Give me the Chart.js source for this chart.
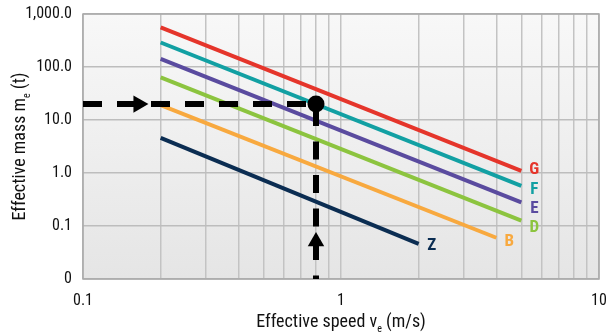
<!DOCTYPE html>
<html><head><meta charset="utf-8">
<script src="https://cdn.jsdelivr.net/npm/chart.js@4/dist/chart.umd.min.js"></script>
<style>html,body{margin:0;padding:0;background:#fff}#wrap{width:609px;height:333px}</style>
</head><body><div id="wrap"><canvas id="c" width="609" height="333"></canvas></div>
<script>
// ---- data ----
const seriesNames = ['G', 'F', 'E', 'D', 'B', 'Z'];
const speedG = [0.2, 5];   const massG = [560, 1.1];
const speedF = [0.2, 5];   const massF = [290, 0.57];
const speedE = [0.2, 5];   const massE = [142, 0.28];
const speedD = [0.2, 5];   const massD = [64, 0.126];
const speedB = [0.2, 4.0]; const massB = [19, 0.06];
const speedZ = [0.2, 2.0]; const massZ = [4.6, 0.046];
const seriesColors = ['#e5352b', '#12a0a3', '#5a4b9f', '#8cc43f', '#f8a93f', '#0b2d52'];
const labelDy = [-1, 4, 6, 7, 4, 2];

const guideSpeed = 0.8;     // example read-off point
const guideMass = 20;
const hArrowSpeed = [0.164]; const hArrowMass = [20];
const vArrowSpeed = [0.8];   const vArrowMass = [0.051];

const yTickValues = [0.01, 0.1, 1, 10, 100, 1000];
const yTickLabels = ['0', '0.1', '1.0', '10.0', '100.0', '1,000.0'];
const xGridValues = [0.1,0.2,0.3,0.4,0.5,0.6,0.7,0.8,0.9,1,2,3,4,5,6,7,8,9,10];
const xLabelValues = [0.1, 1, 10];
const xLabelTexts = ['0.1', '1', '10'];

const FONT = "'Liberation Sans Narrow', 'Arial Narrow', 'Roboto Condensed', Roboto, sans-serif";

const speeds = [speedG, speedF, speedE, speedD, speedB, speedZ];
const masses = [massG, massF, massE, massD, massB, massZ];
const pts = (xs, ys) => xs.map((x, i) => ({x: x, y: ys[i]}));

const datasets = seriesNames.map((n, i) => ({
  label: n, data: pts(speeds[i], masses[i]), showLine: true,
  borderColor: seriesColors[i], borderWidth: 4, pointRadius: 0,
  endLabel: n, endColor: seriesColors[i], endDy: labelDy[i], order: 10
}));
datasets.push({label: 'h', data: pts([0.1, guideSpeed], [guideMass, guideMass]), showLine: true,
  borderColor: '#000', borderWidth: 6, borderDash: [19, 15], borderCapStyle: 'butt', pointRadius: 0, order: 5});
datasets.push({label: 'v', data: pts([guideSpeed, guideSpeed], [guideMass, 0.01]), showLine: true,
  borderColor: '#000', borderWidth: 6, borderDash: [18, 15.5], borderDashOffset: 29.5, borderCapStyle: 'butt', pointRadius: 0, order: 5});
datasets.push({label: 'ha', data: pts(hArrowSpeed, hArrowMass), pointStyle: 'triangle', rotation: 90,
  pointRadius: 10, pointBackgroundColor: '#000', pointBorderWidth: 0, order: 1});
datasets.push({label: 'va', data: pts(vArrowSpeed, vArrowMass), pointStyle: 'triangle', rotation: 0,
  pointRadius: 9.5, pointBackgroundColor: '#000', pointBorderWidth: 0, order: 1});
datasets.push({label: 'dot', data: pts([guideSpeed], [guideMass]), pointStyle: 'circle',
  pointRadius: 8.5, pointBackgroundColor: '#000', pointBorderWidth: 0, order: 0});

const bgPlugin = {
  id: 'bg',
  beforeDraw(chart) {
    const a = chart.chartArea, ctx = chart.ctx;
    const g = ctx.createLinearGradient(0, a.top, 0, a.bottom);
    g.addColorStop(0, '#f8f8f8'); g.addColorStop(1, '#e5e5e5');
    ctx.save(); ctx.fillStyle = g; ctx.fillRect(a.left, a.top, a.right - a.left, a.bottom - a.top); ctx.restore();
  },
  beforeDatasetsDraw(chart) {
    const a = chart.chartArea, ctx = chart.ctx;
    ctx.save(); ctx.strokeStyle = '#a9a9a9'; ctx.lineWidth = 1.5;
    ctx.strokeRect(a.left, a.top, a.right - a.left, a.bottom - a.top); ctx.restore();
  },
  afterDatasetsDraw(chart) {
    const ctx = chart.ctx;
    ctx.save();
    ctx.font = "bold 17px " + FONT; ctx.textBaseline = 'middle'; ctx.textAlign = 'center';
    chart.data.datasets.forEach((ds, i) => {
      if (!ds.endLabel) return;
      const meta = chart.getDatasetMeta(i);
      const p = meta.data[meta.data.length - 1];
      ctx.fillStyle = ds.endColor;
      ctx.fillText(ds.endLabel, p.x + 13, p.y + ds.endDy);
    });
    ctx.restore();
  },
  afterDraw(chart) {
    const a = chart.chartArea, ctx = chart.ctx;
    function sub(parts, cx, cy) {
      const big = "18px " + FONT, small = "10px " + FONT;
      let w = 0;
      parts.forEach(p => { ctx.font = p.s ? small : big; w += ctx.measureText(p.t).width; });
      let x = cx - w / 2;
      parts.forEach(p => {
        ctx.font = p.s ? small : big;
        ctx.fillText(p.t, x, cy + (p.s ? 5 : 0));
        x += ctx.measureText(p.t).width;
      });
    }
    ctx.save(); ctx.fillStyle = '#111'; ctx.textBaseline = 'alphabetic'; ctx.textAlign = 'left';
    sub([{t: 'Effective speed v'}, {t: 'e', s: 1}, {t: ' (m/s)'}], (a.left + a.right) / 2, 327);
    ctx.translate(25, (a.top + a.bottom) / 2); ctx.rotate(-Math.PI / 2);
    sub([{t: 'Effective mass m'}, {t: 'e', s: 1}, {t: ' (t)'}], 0, 0);
    ctx.restore();
  }
};

new Chart(document.getElementById('c'), {
  type: 'scatter',
  data: {datasets: datasets},
  options: {
    responsive: false, animation: false,
    layout: {padding: {left: 0, right: 8, top: 14, bottom: 0}},
    plugins: {legend: {display: false}, tooltip: {enabled: false}},
    scales: {
      x: {
        type: 'logarithmic', min: 0.1, max: 10,
        afterFit(s) { s.height = 54; s.paddingLeft = 0; s.paddingRight = 0; },
        afterBuildTicks(s) { s.ticks = xGridValues.map(v => ({value: v})); },
        grid: {color: '#c3c3c3', lineWidth: 1.5, drawTicks: false},
        border: {display: false},
        ticks: {autoSkip: false, maxRotation: 0, padding: 12, color: '#111', font: {family: FONT, size: 16},
          callback(v) { const k = xLabelValues.findIndex(t => Math.abs(t - v) < 1e-9); return k >= 0 ? xLabelTexts[k] : ''; }}
      },
      y: {
        type: 'logarithmic', min: 0.01, max: 1000,
        afterFit(s) { s.width = 83; s.paddingTop = 0; s.paddingBottom = 0; },
        afterBuildTicks(s) { s.ticks = yTickValues.map(v => ({value: v})); },
        grid: {color: '#bdbdbd', lineWidth: 1.5, drawTicks: false},
        border: {display: false},
        ticks: {autoSkip: false, padding: 11, color: '#111', font: {family: FONT, size: 16},
          callback(v) { const k = yTickValues.findIndex(t => Math.abs(t - v) < 1e-12); return k >= 0 ? yTickLabels[k] : ''; }}
      }
    }
  },
  plugins: [bgPlugin]
});
</script></body></html>
